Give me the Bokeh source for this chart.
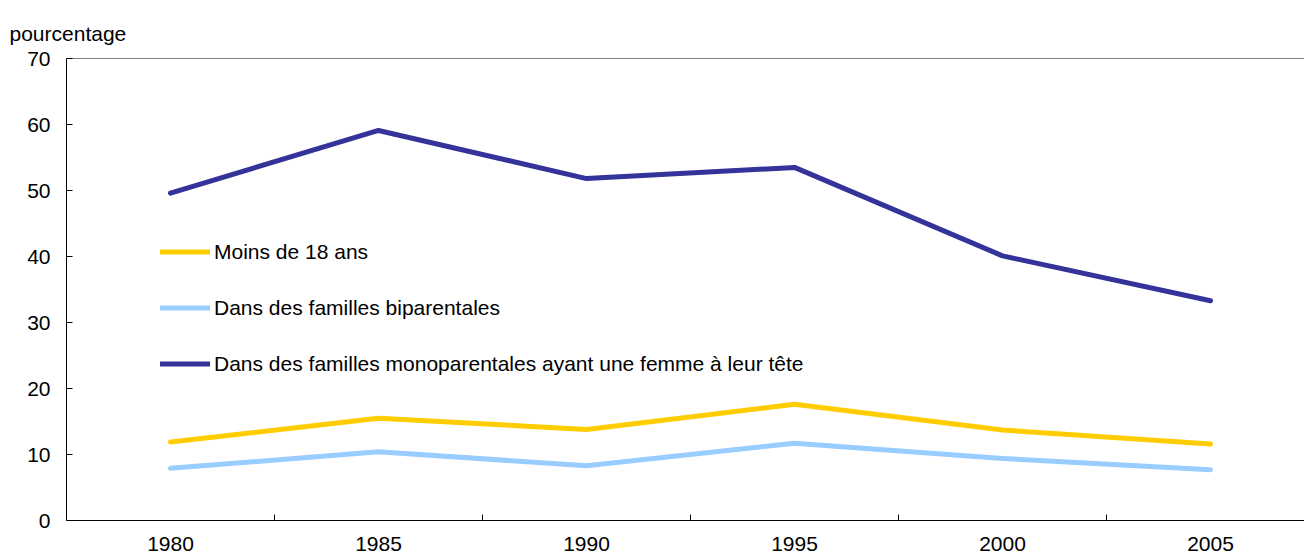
from bokeh.plotting import figure
from bokeh.models import Range1d, FixedTicker, Legend, LegendItem, Span, ColumnDataSource
from bokeh.embed import file_html
from bokeh.resources import INLINE

# ---- data ----
years = ["1980", "1985", "1990", "1995", "2000", "2005"]
moins_18 = [11.9, 15.5, 13.8, 17.6, 13.7, 11.6]
biparentales = [7.9, 10.4, 8.3, 11.7, 9.4, 7.7]
monoparentales = [49.6, 59.1, 51.8, 53.5, 40.1, 33.3]
y_ticks = [0, 10, 20, 30, 40, 50, 60, 70]
series_labels = [
    "Moins de 18 ans",
    "Dans des familles biparentales",
    "Dans des familles monoparentales ayant une femme à leur tête",
]
y_axis_title = "pourcentage"

FONT = "Liberation Sans"
COLORS = ["#FFCC00", "#99CCFF", "#333399"]

n = len(years)
centers = [i + 0.5 for i in range(n)]
bounds = [i for i in range(1, n)]

W, H = 1304, 560
FRAME_L, FRAME_T, FRAME_B = 66, 58, 520
PX_PER_CAT = 208.0
x_end = (W - FRAME_L) / PX_PER_CAT
y_max = 70

p = figure(width=W, height=H, output_backend="svg", toolbar_location=None,
           x_range=Range1d(0, x_end), y_range=Range1d(0, y_max),
           min_border_left=FRAME_L, min_border_right=0,
           min_border_top=FRAME_T, min_border_bottom=H - FRAME_B)

p.outline_line_color = None
p.xgrid.visible = False
p.ygrid.visible = False
p.background_fill_color = "white"
p.border_fill_color = "white"

# axis title "pourcentage" as the plot title, pulled to the left edge
p.title.text = y_axis_title
p.title.align = "left"
p.title.offset = -57
p.title.standoff = 28
p.title.text_font = FONT
p.title.text_font_size = "21px"
p.title.text_font_style = "normal"
p.title.text_color = "black"

# x axis
xa = p.xaxis[0]
xa.ticker = FixedTicker(ticks=centers, minor_ticks=bounds)
xa.major_label_overrides = {c: y for c, y in zip(centers, years)}
xa.major_tick_line_color = None
xa.major_tick_in = 0
xa.major_tick_out = 0
xa.minor_tick_in = 6
xa.minor_tick_out = 0
xa.minor_tick_line_color = "black"
xa.axis_line_color = "black"
xa.major_label_standoff = 16
xa.major_label_text_font = FONT
xa.major_label_text_font_size = "21px"
xa.major_label_text_color = "black"

# y axis
ya = p.yaxis[0]
ya.ticker = FixedTicker(ticks=y_ticks, minor_ticks=[])
ya.major_tick_in = 6
ya.major_tick_out = 0
ya.major_tick_line_color = "black"
ya.axis_line_color = "black"
ya.major_label_standoff = 16
ya.major_label_text_font = FONT
ya.major_label_text_font_size = "21px"
ya.major_label_text_color = "black"

# top border line
p.add_layout(Span(location=y_max, dimension="width", line_color="black", line_width=1))

src = ColumnDataSource(dict(x=centers, a=moins_18, b=biparentales, c=monoparentales))
renderers = []
for col, color in zip(["a", "b", "c"], COLORS):
    r = p.line("x", col, source=src, line_color=color, line_width=5,
               line_cap="round", line_join="round")
    renderers.append(r)

legend = Legend(
    items=[LegendItem(label=lab, renderers=[r]) for lab, r in zip(series_labels, renderers)],
    location=(94, 144),
    glyph_width=50, glyph_height=25, label_height=25, label_standoff=4,
    spacing=31, padding=0, margin=0,
    border_line_color=None, background_fill_alpha=0,
    label_text_font=FONT, label_text_font_size="21px", label_text_color="black",
)
p.add_layout(legend)

open("out.html", "w").write(file_html(p, INLINE))
